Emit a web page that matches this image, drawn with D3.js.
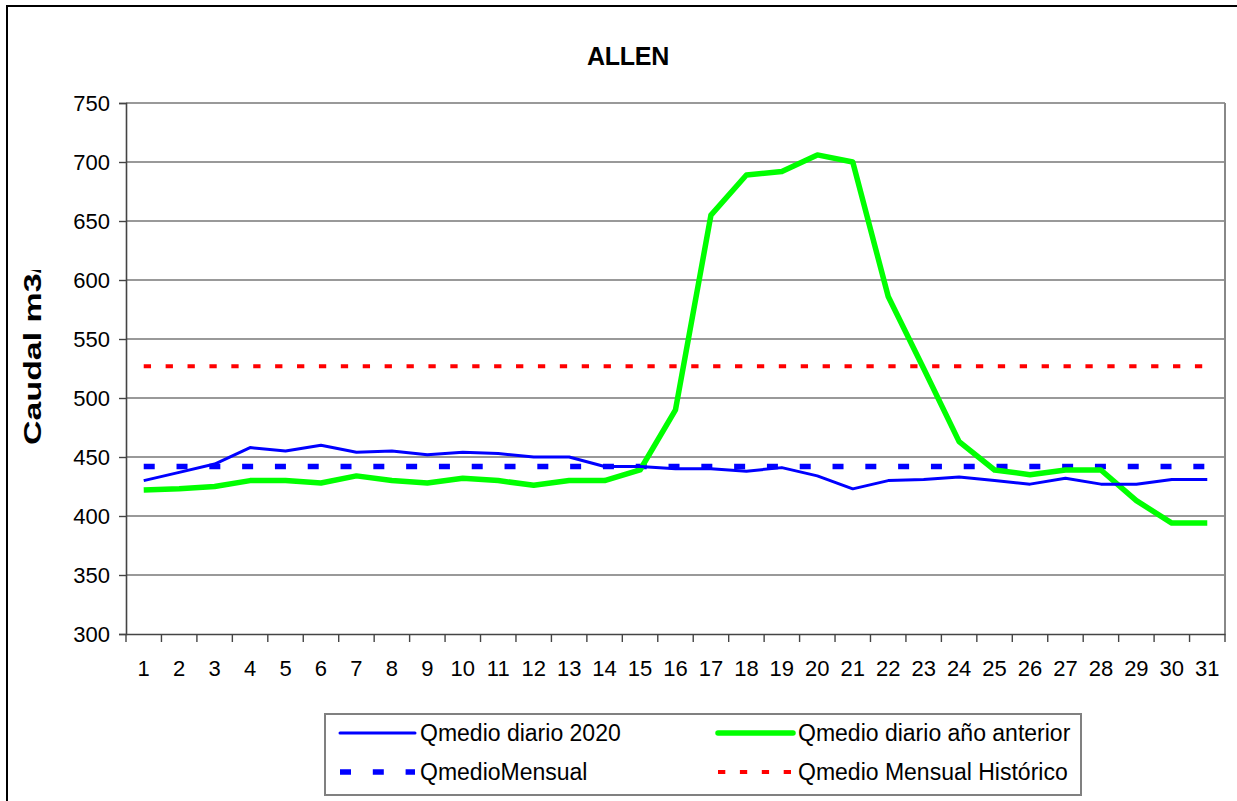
<!DOCTYPE html>
<html>
<head>
<meta charset="utf-8">
<script src="https://cdn.jsdelivr.net/npm/d3@7"></script>
<style>
  body { margin: 0; background: #fff; }
  svg { display: block; font-family: "Liberation Sans", Arial, sans-serif; }
</style>
</head>
<body>
<div id="chartContainer"></div>
<script>
// Daily flow values
const days = d3.range(1, 32);
const q2020 = [430, 437, 444, 458, 455, 460, 454, 455, 452, 454, 453, 450, 450, 442, 442, 440,
  440, 438, 441, 434, 423, 430, 431, 433, 430, 427, 432, 427, 427, 431, 431];
const qAnterior = [422, 423, 425, 430, 430, 428, 434, 430, 428, 432, 430, 426, 430, 430, 439, 490,
  655, 689, 692, 706, 700, 586, 525, 463, 439, 435, 439, 439, 413, 394, 394];
const qMensual = 442;
const qHistorico = 527;
const yTicks = [300, 350, 400, 450, 500, 550, 600, 650, 700, 750];

const W = 1237, H = 801;
const plotLeft = 126, plotRight = 1225, plotTop = 103, plotBottom = 634;

const svg = d3.select("#chartContainer")
  .append("svg")
  .attr("width", W)
  .attr("height", H);

// outer frame (runs past the right / bottom edge)
svg.append("rect")
  .attr("x", 7).attr("y", 6)
  .attr("width", 1260).attr("height", 820)
  .attr("fill", "none").attr("stroke", "#000").attr("stroke-width", 2);

const x = d3.scaleBand().domain(days).range([plotLeft, plotRight]);
const cx = d => x(d) + x.bandwidth() / 2;
const y = d3.scaleLinear().domain([300, 750]).range([plotBottom, plotTop]);

// gridlines
svg.append("g")
  .selectAll("line")
  .data(yTicks.slice(1))
  .enter()
  .append("line")
  .attr("x1", plotLeft).attr("x2", plotRight)
  .attr("y1", d => y(d)).attr("y2", d => y(d))
  .attr("stroke", "#777").attr("stroke-width", 1.6);

// plot area right border
svg.append("line")
  .attr("x1", plotRight).attr("x2", plotRight)
  .attr("y1", plotTop).attr("y2", plotBottom)
  .attr("stroke", "#888").attr("stroke-width", 2);

// y axis
const yAxis = svg.append("g")
  .attr("transform", `translate(${plotLeft},0)`)
  .call(d3.axisLeft(y).tickValues(yTicks).tickSize(7).tickPadding(9));
yAxis.select(".domain").attr("stroke", "#444").attr("stroke-width", 1.6);
yAxis.selectAll(".tick line").attr("stroke", "#444").attr("stroke-width", 1.4);
yAxis.selectAll("text")
  .attr("font-size", 22).attr("fill", "#000")
  .attr("font-family", "Liberation Sans, Arial, sans-serif");

// x axis, ticks between categories
const xAxis = svg.append("g")
  .attr("transform", `translate(0,${plotBottom})`)
  .call(d3.axisBottom(x).tickSize(0).tickPadding(26));
xAxis.select(".domain").attr("stroke", "#444").attr("stroke-width", 1.6);
xAxis.selectAll("text")
  .attr("font-size", 22).attr("fill", "#000")
  .attr("font-family", "Liberation Sans, Arial, sans-serif");
svg.append("g")
  .selectAll("line")
  .data(days.concat([32]))
  .enter()
  .append("line")
  .attr("x1", d => d <= 31 ? x(d) : plotRight)
  .attr("x2", d => d <= 31 ? x(d) : plotRight)
  .attr("y1", plotBottom).attr("y2", plotBottom + 8)
  .attr("stroke", "#444").attr("stroke-width", 1.4);

// series
const line = d3.line().x((d, i) => cx(days[i])).y(d => y(d));

svg.append("path")
  .datum(days.map(() => qHistorico))
  .attr("d", line)
  .attr("fill", "none").attr("stroke", "#ff0000").attr("stroke-width", 4)
  .attr("stroke-dasharray", "7.3,14.6");

svg.append("path")
  .datum(days.map(() => qMensual))
  .attr("d", line)
  .attr("fill", "none").attr("stroke", "#0000ff").attr("stroke-width", 5.5)
  .attr("stroke-dasharray", "11,21.8");

svg.append("path")
  .datum(qAnterior)
  .attr("d", line)
  .attr("fill", "none").attr("stroke", "#00ff00").attr("stroke-width", 5.5)
  .attr("stroke-linejoin", "round");

svg.append("path")
  .datum(q2020)
  .attr("d", line)
  .attr("fill", "none").attr("stroke", "#0000ff").attr("stroke-width", 3)
  .attr("stroke-linejoin", "round");

// title
svg.append("text")
  .attr("x", 628).attr("y", 65)
  .attr("text-anchor", "middle")
  .attr("font-size", 25).attr("font-weight", "bold")
  .attr("letter-spacing", -0.3)
  .text("ALLEN");

// y axis title, clipped at the top like the original
svg.append("clipPath").attr("id", "ylabClip")
  .append("rect").attr("x", 0).attr("y", 270).attr("width", 80).attr("height", 200);
svg.append("g")
  .attr("clip-path", "url(#ylabClip)")
  .append("text")
  .attr("transform", "translate(41,445) rotate(-90)")
  .attr("font-size", 23).attr("font-weight", "bold")
  .attr("textLength", 200).attr("lengthAdjust", "spacingAndGlyphs")
  .text("Caudal m3/s");

// legend
const legend = svg.append("g");
legend.append("rect")
  .attr("x", 325).attr("y", 714)
  .attr("width", 756).attr("height", 81)
  .attr("fill", "#fff").attr("stroke", "#808080").attr("stroke-width", 2);

const legendItems = [
  { label: "Qmedio diario 2020", color: "#0000ff", width: 3, dash: null, lx: 340, ly: 733 },
  { label: "Qmedio diario año anterior", color: "#00ff00", width: 5.5, dash: null, lx: 718, ly: 733 },
  { label: "QmedioMensual", color: "#0000ff", width: 5.5, dash: "11,21.8", lx: 340, ly: 772 },
  { label: "Qmedio Mensual Histórico", color: "#ff0000", width: 4, dash: "7.3,14.6", lx: 718, ly: 772 }
];

legendItems.forEach(d => {
  legend.append("line")
    .attr("x1", d.lx).attr("x2", d.lx + 75)
    .attr("y1", d.ly).attr("y2", d.ly)
    .attr("stroke", d.color).attr("stroke-width", d.width)
    .attr("stroke-dasharray", d.dash)
    .attr("stroke-linecap", d.dash ? "butt" : "round");
  legend.append("text")
    .attr("x", d.lx + 80).attr("y", d.ly + 8)
    .attr("font-size", 23)
    .text(d.label);
});
</script>
</body>
</html>
